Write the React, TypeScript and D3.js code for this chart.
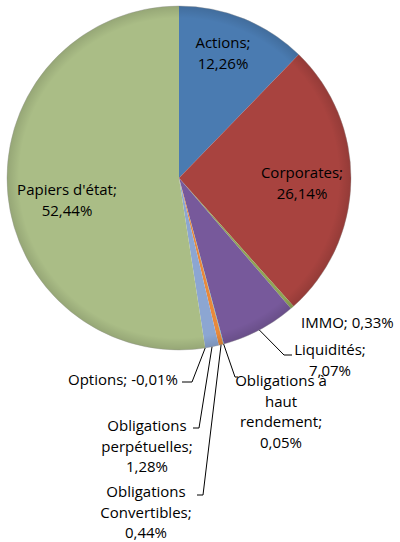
import React from "react";
import * as d3 from "d3";

const categories = [
  "Actions",
  "Corporates",
  "IMMO",
  "Liquidités",
  "Obligations à haut rendement",
  "Obligations Convertibles",
  "Obligations perpétuelles",
  "Options",
  "Papiers d'état",
];
const values = [12.26, 26.14, 0.33, 7.07, 0.05, 0.44, 1.28, -0.01, 52.44];
const valueLabels = ["12,26%", "26,14%", "0,33%", "7,07%", "0,05%", "0,44%", "1,28%", "-0,01%", "52,44%"];
const colors = ["#4a7bb1", "#a8433f", "#8fa556", "#77599b", "#4bacc6", "#e8893c", "#8ca6d2", "#888888", "#aabd86"];

// layout for labels (lines of text, anchor, position, leader polyline tail)
type LabelLayout = {
  lines: string[];
  x: number;
  y: number; // first line center
  anchor: "start" | "middle" | "end";
  leader?: [number, number][]; // elbow points after pie edge
};
const labelLayout: LabelLayout[] = [
  { lines: ["Actions;", "12,26%"], x: 223, y: 43, anchor: "middle" },
  { lines: ["Corporates;", "26,14%"], x: 302, y: 173, anchor: "middle" },
  { lines: ["IMMO; 0,33%"], x: 301, y: 323, anchor: "start" },
  { lines: ["Liquidités;", "7,07%"], x: 330, y: 350, anchor: "middle", leader: [[284, 355], [292, 355]] },
  { lines: ["Obligations à", "haut", "rendement;", "0,05%"], x: 281, y: 381, anchor: "middle", leader: [[235, 377], [238, 377]] },
  { lines: ["Obligations", "Convertibles;", "0,44%"], x: 146, y: 492, anchor: "middle", leader: [[203, 495], [197, 495]] },
  { lines: ["Obligations", "perpétuelles;", "1,28%"], x: 147, y: 426, anchor: "middle", leader: [[199, 428], [193, 428]] },
  { lines: ["Options; -0,01%"], x: 178, y: 380, anchor: "end", leader: [[192, 382], [182, 382]] },
  { lines: ["Papiers d'état;", "52,44%"], x: 67, y: 190, anchor: "middle" },
];

const W = 400;
const H = 542;
const cx = 179;
const cy = 178;
const R = 172;
const lineH = 20.5;

export default function App() {
  const data = categories.map((c, i) => ({ c, v: values[i], i }));
  const pie = d3
    .pie<{ c: string; v: number; i: number }>()
    .sort(null)
    .value((d) => Math.max(0, d.v));
  const arcs = pie(data);
  const arc = d3.arc<d3.PieArcDatum<any>>().innerRadius(0).outerRadius(R);

  return (
    <svg
      width={W}
      height={H}
      style={{ position: "absolute", left: 0, top: 0, background: "#fff" }}
      fontFamily="'Open Sans', sans-serif"
      fontSize={15}
    >
      <defs>
        <radialGradient id="shade" cx="0.5" cy="0.5" r="0.5">
          <stop offset="0.93" stopColor="#000" stopOpacity={0} />
          <stop offset="1" stopColor="#000" stopOpacity={0.12} />
        </radialGradient>
      </defs>
      <g transform={`translate(${cx},${cy})`}>
        {arcs.map((a) => (
          <path key={a.data.c} d={arc(a) || ""} fill={colors[a.index]} />
        ))}
        <circle r={R} fill="url(#shade)" />
        <circle r={R} fill="none" stroke="#8a8a8a" strokeOpacity={0.35} strokeWidth={1} />
      </g>
      {arcs.map((a, i) => {
        const L = labelLayout[i];
        if (!L.leader) return null;
        const mid = (a.startAngle + a.endAngle) / 2;
        const px = cx + R * Math.sin(mid);
        const py = cy - R * Math.cos(mid);
        const pts: [number, number][] = [[px, py], ...L.leader];
        return (
          <polyline
            key={"l" + i}
            points={pts.map((p) => p.join(",")).join(" ")}
            fill="none"
            stroke="#000"
            strokeWidth={1}
          />
        );
      })}
      {labelLayout.map((L, i) => (
        <text key={"t" + i} textAnchor={L.anchor} fill="#000">
          {L.lines.map((ln, j) => (
            <tspan key={j} x={L.x} y={L.y + j * lineH} dy="0.35em">
              {ln}
            </tspan>
          ))}
        </text>
      ))}
    </svg>
  );
}
